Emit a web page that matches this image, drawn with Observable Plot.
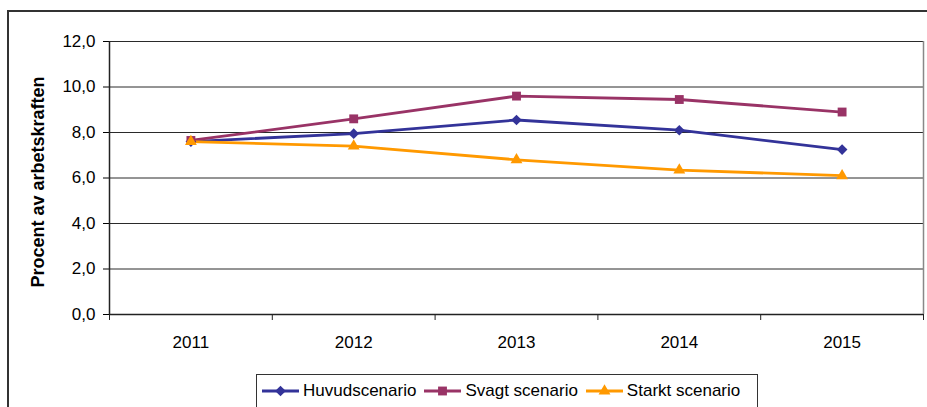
<!DOCTYPE html>
<html>
<head>
<meta charset="utf-8">
<script src="https://cdn.jsdelivr.net/npm/d3@7"></script>
<script src="https://cdn.jsdelivr.net/npm/@observablehq/plot@0.6"></script>
<style>
  html, body { margin: 0; padding: 0; background: #fff; }
  #wrap { position: relative; width: 927px; height: 407px; overflow: hidden; background: #fff;
          font-family: "Liberation Sans", Arial, sans-serif; }
  #frame { position: absolute; left: 7px; top: 10px; width: 1000px; height: 500px; border: 2px solid #333; box-sizing: border-box; }
  #chart { position: absolute; left: 0; top: 0; }
  #legend { position: absolute; left: 256px; top: 374px; width: 502px; height: 60px; border: 1px solid #333;
            box-sizing: border-box; background: #fff; display: flex; align-items: flex-start; padding: 6px 0 0 5px; font-size: 17px; color: #000; }
  .item { display: flex; align-items: center; margin-right: 8px; white-space: nowrap; }
  .item svg { margin-right: 4px; }
</style>
</head>
<body>
<div id="wrap">
  <div id="frame"></div>
  <div id="chart"></div>
  <div id="legend"></div>
</div>
<script>
const years = [2011, 2012, 2013, 2014, 2015];
const seriesNames = ["Huvudscenario", "Svagt scenario", "Starkt scenario"];
const huvudscenario = [7.6, 7.95, 8.55, 8.1, 7.25];
const svagtScenario = [7.65, 8.6, 9.6, 9.45, 8.9];
const starktScenario = [7.6, 7.4, 6.8, 6.35, 6.1];
const yTicks = [0, 2, 4, 6, 8, 10, 12];
const yLabel = "Procent av arbetskraften";

const seriesValues = [huvudscenario, svagtScenario, starktScenario];
const colors = ["#333399", "#993366", "#FF9900"];
const symbols = ["diamond2", "square", "triangle"];
const symbolR = [4.8, 5, 4.4];
const d3symbols = [d3.symbolDiamond2, d3.symbolSquare, d3.symbolTriangle];

const data = seriesNames.flatMap((name, s) =>
  years.map((year, i) => ({name, year, value: seriesValues[s][i]})));

const boundaries = [years[0] - 0.5, ...years.map(y => y + 0.5)];

const marks = [
  Plot.ruleY(yTicks.filter(t => t > 0), {y: d => d, stroke: "#2a2a2a", strokeWidth: 1}),
  Plot.ruleX([boundaries[boundaries.length - 1]], {x: d => d, stroke: "#888", strokeWidth: 1.5}),
  Plot.ruleY([0], {y: d => d, stroke: "#222", strokeWidth: 1.5}),
  Plot.ruleX([boundaries[0]], {x: d => d, stroke: "#222", strokeWidth: 1.5}),
  Plot.ruleX(boundaries, {x: d => d, y1: 0, y2: 0, insetBottom: -6, stroke: "#222", strokeWidth: 1}),
  Plot.text([yLabel], {text: d => d, frameAnchor: "left", textAnchor: "middle", lineAnchor: "middle", rotate: -90, dx: -71, dy: 4, fontWeight: "bold", fontSize: 18, fill: "#000"})
];
seriesNames.forEach((name, s) => {
  const d = data.filter(r => r.name === name);
  marks.push(Plot.line(d, {x: "year", y: "value", stroke: colors[s], strokeWidth: 2.8}));
});
seriesNames.forEach((name, s) => {
  const d = data.filter(r => r.name === name);
  marks.push(Plot.dot(d, {x: "year", y: "value", fill: colors[s], stroke: "none", symbol: symbols[s], r: symbolR[s]}));
});

const chart = Plot.plot({
  width: 927,
  height: 360,
  marginLeft: 109,
  marginRight: 4,
  marginTop: 41,
  marginBottom: 46,
  style: {fontFamily: "\"Liberation Sans\", Arial, sans-serif", fontSize: "17px", background: "transparent", color: "#000", overflow: "visible"},
  x: {type: "linear", domain: [boundaries[0], boundaries[boundaries.length - 1]], ticks: years, tickFormat: d => String(d), tickSize: 0, tickPadding: 21, label: null},
  y: {domain: [0, 12], ticks: yTicks, tickFormat: d => d.toFixed(1).replace(".", ","), tickSize: 6, tickPadding: 8, label: null},
  marks
});
document.getElementById("chart").appendChild(chart);

const legend = document.getElementById("legend");
seriesNames.forEach((name, s) => {
  const item = document.createElement("div");
  item.className = "item";
  const sym = d3.symbol(d3symbols[s], Math.PI * symbolR[s] * symbolR[s])();
  item.innerHTML = `<svg width="37" height="14"><line x1="0" x2="37" y1="7" y2="7" stroke="${colors[s]}" stroke-width="2.8"/><path d="${sym}" transform="translate(18.5,7)" fill="${colors[s]}"/></svg><span>${name}</span>`;
  legend.appendChild(item);
});
</script>
</body>
</html>
